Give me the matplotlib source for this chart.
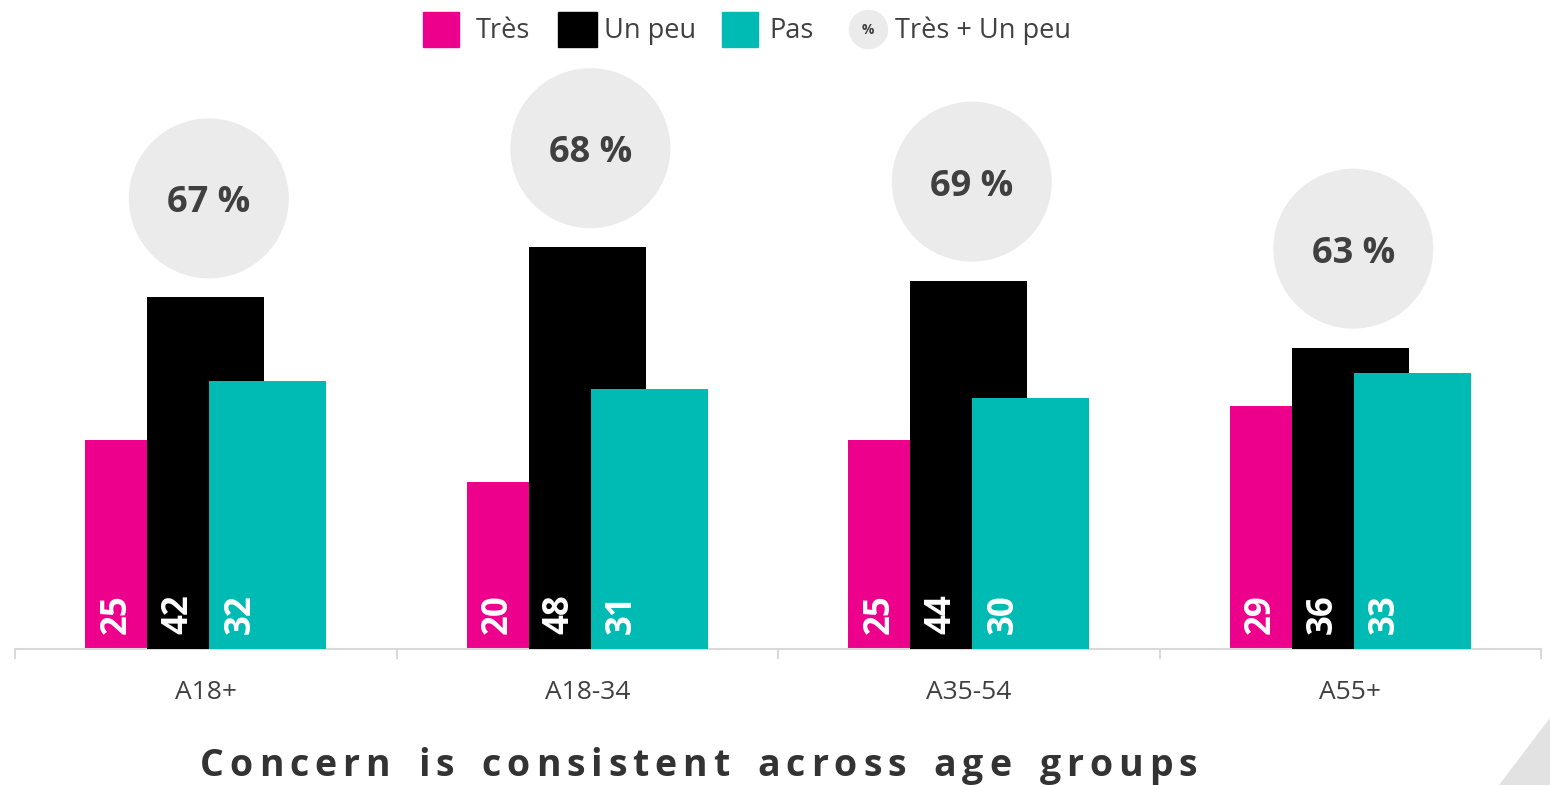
import numpy as np
import matplotlib
matplotlib.use('Agg')
from matplotlib import pyplot as plt
from matplotlib.patches import Rectangle, Polygon

plt.rcParams['font.family'] = ['Open Sans', 'DejaVu Sans']

# données
groupes = ['A18+', 'A18-34', 'A35-54', 'A55+']
tres    = [25, 20, 25, 29]
un_peu  = [42, 48, 44, 36]
pas     = [32, 31, 30, 33]
total   = [67, 68, 69, 63]          # Très + Un peu
series  = ['Très', 'Un peu', 'Pas']
titre   = 'Concern is consistent across age groups'

ROSE, NOIR, TURQ = '#EC008C', '#000000', '#00BBB4'
GRIS_TXT = '#404040'
GRIS_AXE = '#D9D9D9'
GRIS_BULLE = '#EBEBEB'

W, H = 1550, 785
fig = plt.figure(figsize=(W / 100, H / 100), dpi=100)

def fx(px):
    return px / W

def fy(py):
    return 1 - py / H

# axes : ligne de base à y=649 px, 8.375 px par unité
haut_px = 60
ax = fig.add_axes([fx(15), fy(649), (1541 - 15) / W, (649 - haut_px) / H])
ax.set_xlim(-0.5, 3.5)
ax.set_ylim(0, (649 - haut_px) / 8.375)

x = np.arange(len(groupes))
largeur = 0.307
decal = 0.1625

ax.bar(x - decal, tres, largeur, color=ROSE, zorder=2)
ax.bar(x, un_peu, largeur, color=NOIR, zorder=3)
ax.bar(x + decal, pas, largeur, color=TURQ, zorder=4)

# étiquettes verticales dans les barres
for pos, vals in zip([x - decal, x, x + decal], [tres, un_peu, pas]):
    for xi, v in zip(pos, vals):
        ax.text(xi - 0.072, 1.8, str(v), rotation=90, ha='center', va='bottom',
                color='white', fontsize=25, fontweight='bold', zorder=6)

# bulles Très + Un peu
bulle_y = np.array(un_peu) + 11.8
ax.scatter(x + 0.008, bulle_y, s=(160 * 0.72) ** 2, color=GRIS_BULLE,
           edgecolors='none', zorder=5, clip_on=False)
for xi, yi, t in zip(x, bulle_y, total):
    ax.text(xi + 0.008, yi - 0.6, f'{t} %', ha='center', va='center',
            fontsize=26, fontweight='bold', color=GRIS_TXT, zorder=6)

# axe
for s in ['top', 'right', 'left']:
    ax.spines[s].set_visible(False)
ax.spines['bottom'].set_color(GRIS_AXE)
ax.spines['bottom'].set_linewidth(1.5)
ax.set_yticks([])
ax.set_xticks(x)
ax.set_xticklabels(groupes, fontsize=19, color=GRIS_TXT)
ax.tick_params(axis='x', which='major', length=0, pad=22)
ax.set_xticks(np.arange(-0.5, 4, 1), minor=True)
ax.tick_params(axis='x', which='minor', length=7.5, width=1.5, color=GRIS_AXE)

# légende
carres = [(423, 459, ROSE), (558, 597, NOIR), (722, 758, TURQ)]
textes_x = [476, 604, 769]
for (x0, x1, c), tx, nom in zip(carres, textes_x, series):
    fig.add_artist(Rectangle((fx(x0), fy(47)), fx(x1 - x0), 35 / H,
                             transform=fig.transFigure, color=c))
    fig.text(fx(tx), fy(31), nom, ha='left', va='center', fontsize=19.5, color=GRIS_TXT)
fig.add_artist(plt.Line2D([fx(868)], [fy(29)], marker='o', markersize=38 * 0.72,
                          color=GRIS_BULLE, transform=fig.transFigure))
fig.text(fx(868), fy(30), '%', ha='center', va='center', fontsize=10,
         fontweight='bold', color=GRIS_TXT)
fig.text(fx(895), fy(31), 'Très + Un peu', ha='left', va='center', fontsize=19.5, color=GRIS_TXT)

# coin décoratif
fig.add_artist(Polygon([(fx(1499), fy(785)), (fx(1550), fy(718)), (fx(1550), fy(785))],
                       closed=True, transform=fig.transFigure, color='#E2E2E2', lw=0))

# titre espacé
renderer = fig.canvas.get_renderer()
taille = 27
lettres = []
for ch in titre:
    if ch == ' ':
        lettres.append((ch, None))
        continue
    t = fig.text(0, 0, ch, fontsize=taille, fontweight='bold', color='#333333')
    t._largeur = t.get_window_extent(renderer).width
    lettres.append((ch, t))
nb_lettres = sum(1 for ch, t in lettres if t is not None)
largeur_nat = sum(t._largeur for ch, t in lettres if t is not None)
esp_mot = 22
nb_mots = titre.count(' ')
x_debut, x_fin = 200, 1197
gap = (x_fin - x_debut - largeur_nat - nb_mots * esp_mot) / (nb_lettres - 1)
pos = x_debut
for ch, t in lettres:
    if t is None:
        pos += esp_mot
        continue
    t.set_position((fx(pos), fy(766)))
    t.set_va('center')
    pos += t._largeur + gap

fig.savefig('out.png', dpi=100, facecolor='white')
